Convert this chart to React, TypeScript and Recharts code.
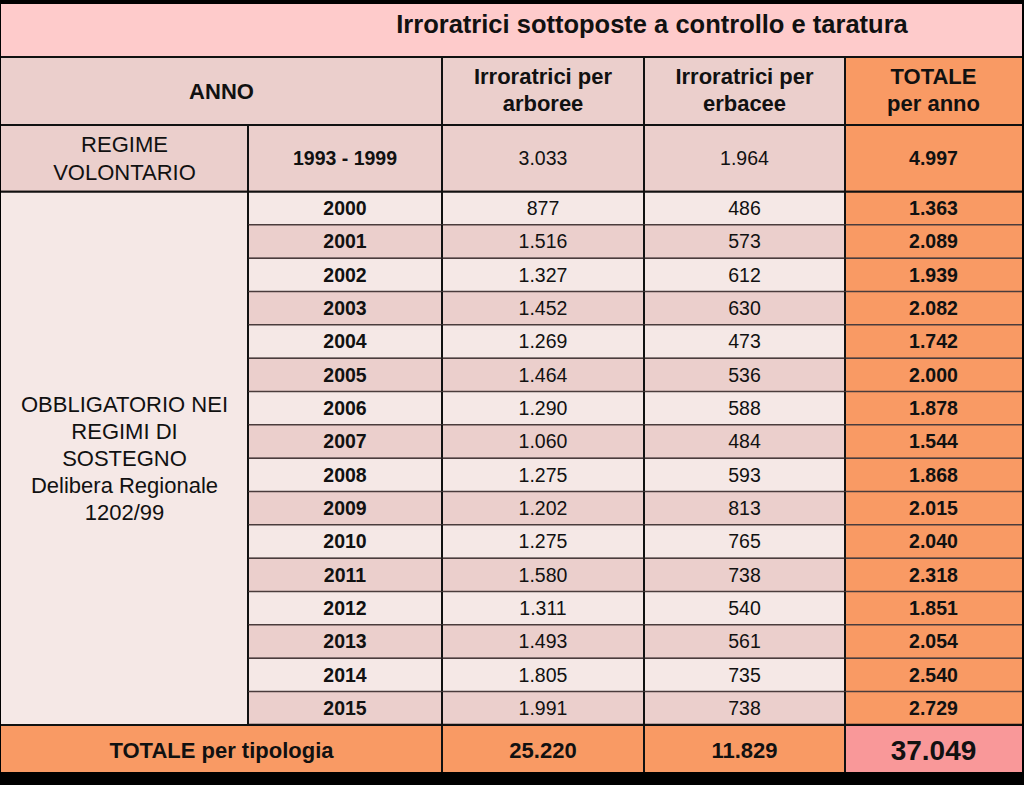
import React from 'react';
import { BarChart, Bar, XAxis, YAxis, ReferenceArea, Customized } from 'recharts';

// ---------- data ----------
const titolo = 'Irroratrici sottoposte a controllo e taratura';
const intestazioneAnno = 'ANNO';
const intestazioniColonne = [
  ['Irroratrici per', 'arboree'],
  ['Irroratrici per', 'erbacee'],
  ['TOTALE', 'per anno'],
];
const etichettaVolontario = ['REGIME', 'VOLONTARIO'];
const periodoVolontario = ['1993', '1999'];
const valoriVolontario = [3033, 1964, 4997];
const etichettaObbligatorio = ['OBBLIGATORIO NEI', 'REGIMI DI', 'SOSTEGNO', 'Delibera Regionale', '1202/99'];
const anni = ['2000', '2001', '2002', '2003', '2004', '2005', '2006', '2007', '2008', '2009', '2010', '2011', '2012', '2013', '2014', '2015'];
const arboree = [877, 1516, 1327, 1452, 1269, 1464, 1290, 1060, 1275, 1202, 1275, 1580, 1311, 1493, 1805, 1991];
const erbacee = [486, 573, 612, 630, 473, 536, 588, 484, 593, 813, 765, 738, 540, 561, 735, 738];
const totali = [1363, 2089, 1939, 2082, 1742, 2000, 1878, 1544, 1868, 2015, 2040, 2318, 1851, 2054, 2540, 2729];
const etichettaTotale = 'TOTALE per tipologia';
const totaliTipologia = [25220, 11829, 37049];

// ---------- style ----------
const FONT = '"Liberation Sans", Arial, Helvetica, sans-serif';
const X = { left: 1, c1: 248, c2: 442, c3: 644, c4: 845, right: 1022 };
const C = {
  title: '#FECBCB',
  head: '#EBCFCC',
  light: '#F5E8E6',
  orange: '#F99A64',
  grand: '#F99899',
  line: '#111111',
  thin: '#4a3c3c',
  text: '#111111',
};
const TITLE_TOP = 4;
const HEAD_TOP = 57;
const PLOT_TOP = 125;
const FOOT_BOTTOM = 772;
const CHART_W = 1024;
const CHART_H = 785;
const MARGIN = { top: PLOT_TOP, right: CHART_W - X.right, bottom: 60, left: X.left };

const fmt = (n: number) => String(n).replace(/\B(?=(\d{3})+(?!\d))/g, '.');

const colCenters = [(X.c2 + X.c3) / 2, (X.c3 + X.c4) / 2, (X.c4 + X.right) / 2];

function Txt({ x, cy, size, bold, children }: any) {
  return (
    <text
      x={x}
      y={cy + 0.358 * size}
      fontSize={size}
      fontWeight={bold ? 700 : 400}
      fontFamily={FONT}
      textAnchor="middle"
      fill={C.text}
    >
      {children}
    </text>
  );
}

function HLine({ x1, x2, y, thick }: any) {
  return <line x1={x1} x2={x2} y1={y} y2={y} stroke={thick ? C.line : C.thin} strokeWidth={thick ? 2 : 1.2} />;
}
function VLine({ x, y1, y2 }: any) {
  return <line x1={x} x2={x} y1={y1} y2={y2} stroke={C.line} strokeWidth={2} />;
}

// ---------- header & footer ----------
function HeaderFooter() {
  const hCy = (HEAD_TOP + PLOT_TOP) / 2;
  const footTop = CHART_H - MARGIN.bottom;
  const fCy = (footTop + FOOT_BOTTOM) / 2;
  return (
    <g>
      {/* title */}
      <rect x={X.left} y={TITLE_TOP} width={X.right - X.left} height={HEAD_TOP - TITLE_TOP} fill={C.title} />
      <Txt x={652} cy={23.5} size={25.5} bold>{titolo}</Txt>
      {/* header */}
      <rect x={X.left} y={HEAD_TOP} width={X.c4 - X.left} height={PLOT_TOP - HEAD_TOP} fill={C.head} />
      <rect x={X.c4} y={HEAD_TOP} width={X.right - X.c4} height={PLOT_TOP - HEAD_TOP} fill={C.orange} />
      <Txt x={(X.left + X.c2) / 2} cy={hCy} size={22} bold>{intestazioneAnno}</Txt>
      {intestazioniColonne.map((lines, i) =>
        lines.map((l, j) => (
          <Txt key={`${i}-${j}`} x={colCenters[i]} cy={hCy - 14.5 + j * 26.5} size={22} bold>{l}</Txt>
        ))
      )}
      <HLine x1={X.left} x2={X.right} y={HEAD_TOP} thick />
      <HLine x1={X.left} x2={X.right} y={PLOT_TOP} thick />
      <VLine x={X.c2} y1={HEAD_TOP} y2={PLOT_TOP} />
      <VLine x={X.c3} y1={HEAD_TOP} y2={PLOT_TOP} />
      <VLine x={X.c4} y1={HEAD_TOP} y2={PLOT_TOP} />
      {/* footer */}
      <rect x={X.left} y={footTop} width={X.c4 - X.left} height={FOOT_BOTTOM - footTop} fill={C.orange} />
      <rect x={X.c4} y={footTop} width={X.right - X.c4} height={FOOT_BOTTOM - footTop} fill={C.grand} />
      <Txt x={(X.left + X.c2) / 2} cy={fCy + 1.5} size={22} bold>{etichettaTotale}</Txt>
      <Txt x={colCenters[0]} cy={fCy + 1.5} size={22} bold>{fmt(totaliTipologia[0])}</Txt>
      <Txt x={colCenters[1]} cy={fCy + 1.5} size={22} bold>{fmt(totaliTipologia[1])}</Txt>
      <Txt x={colCenters[2]} cy={fCy + 1.5} size={28} bold>{fmt(totaliTipologia[2])}</Txt>
      <HLine x1={X.left} x2={X.right} y={footTop} thick />
      <VLine x={X.c2} y1={footTop} y2={FOOT_BOTTOM} />
      <VLine x={X.c3} y1={footTop} y2={FOOT_BOTTOM} />
      <VLine x={X.c4} y1={footTop} y2={FOOT_BOTTOM} />
    </g>
  );
}

// ---------- regime volontario row (spans the 1993 and 1999 bands) ----------
function RegimeShape(props: any) {
  const { y, height } = props;
  if (y == null || height == null) return <g />;
  const cy = y + height / 2;
  return (
    <g>
      <rect x={X.left} y={y} width={X.c4 - X.left} height={height} fill={C.head} />
      <rect x={X.c4} y={y} width={X.right - X.c4} height={height} fill={C.orange} />
      {etichettaVolontario.map((l, j) => (
        <Txt key={j} x={(X.left + X.c1) / 2} cy={cy - 14 + j * 28} size={22}>{l}</Txt>
      ))}
      <Txt x={(X.c1 + X.c2) / 2} cy={cy} size={19.5} bold>{`${periodoVolontario[0]} - ${periodoVolontario[1]}`}</Txt>
      <Txt x={colCenters[0]} cy={cy} size={19.5}>{fmt(valoriVolontario[0])}</Txt>
      <Txt x={colCenters[1]} cy={cy} size={19.5}>{fmt(valoriVolontario[1])}</Txt>
      <Txt x={colCenters[2]} cy={cy} size={19.5} bold>{fmt(valoriVolontario[2])}</Txt>
      <HLine x1={X.left} x2={X.right} y={y} thick />
      <HLine x1={X.left} x2={X.right} y={y + height} thick />
      <VLine x={X.c1} y1={y} y2={y + height} />
      <VLine x={X.c2} y1={y} y2={y + height} />
      <VLine x={X.c3} y1={y} y2={y + height} />
      <VLine x={X.c4} y1={y} y2={y + height} />
    </g>
  );
}

// ---------- merged left cell for the obligatory regime (2000..2015 bands) ----------
function ObbligatorioShape(props: any) {
  const { y, height } = props;
  if (y == null || height == null) return <g />;
  const cy = y + height / 2;
  const n = etichettaObbligatorio.length;
  return (
    <g>
      <rect x={X.left} y={y} width={X.c1 - X.left} height={height} fill={C.light} />
      {etichettaObbligatorio.map((l, j) => (
        <Txt key={j} x={(X.left + X.c1) / 2} cy={cy + (j - (n - 1) / 2) * 27} size={22}>{l}</Txt>
      ))}
      <HLine x1={X.left} x2={X.c1} y={y} thick />
      <HLine x1={X.left} x2={X.c1} y={y + height} thick />
      <VLine x={X.c1} y1={y} y2={y + height} />
    </g>
  );
}

// ---------- yearly rows ----------
function RowShape(props: any) {
  const { y, height, payload } = props;
  if (!payload || payload.totale == null || y == null) return <g />;
  const k = payload.k as number;
  const bg = k % 2 === 0 ? C.light : C.head;
  const cy = y + height / 2;
  return (
    <g>
      <rect x={X.c1} y={y} width={X.c4 - X.c1} height={height} fill={bg} />
      <rect x={X.c4} y={y} width={X.right - X.c4} height={height} fill={C.orange} />
      <Txt x={(X.c1 + X.c2) / 2} cy={cy} size={19.5} bold>{payload.anno}</Txt>
      <Txt x={colCenters[0]} cy={cy} size={19.5}>{fmt(payload.arboree)}</Txt>
      <Txt x={colCenters[1]} cy={cy} size={19.5}>{fmt(payload.erbacee)}</Txt>
      <Txt x={colCenters[2]} cy={cy} size={19.5} bold>{fmt(payload.totale)}</Txt>
      <HLine x1={X.c1} x2={X.right} y={y} thick={k === 0} />
      <HLine x1={X.c1} x2={X.right} y={y + height} thick={k === anni.length - 1} />
      <VLine x={X.c1} y1={y} y2={y + height} />
      <VLine x={X.c2} y1={y} y2={y + height} />
      <VLine x={X.c3} y1={y} y2={y + height} />
      <VLine x={X.c4} y1={y} y2={y + height} />
    </g>
  );
}

const data = [
  ...periodoVolontario.map((a) => ({ anno: a })),
  ...anni.map((a, k) => ({ anno: a, k, arboree: arboree[k], erbacee: erbacee[k], totale: totali[k] })),
];

export default function App() {
  return (
    <div style={{ position: 'absolute', left: 0, top: 0, width: CHART_W, height: CHART_H, background: '#000' }}>
      <BarChart
        width={CHART_W}
        height={CHART_H}
        data={data}
        layout="vertical"
        margin={MARGIN}
        barCategoryGap={0}
        barGap={0}
      >
        <XAxis type="number" hide domain={[0, 'dataMax']} />
        <YAxis type="category" dataKey="anno" hide />
        <Customized component={<HeaderFooter />} />
        <ReferenceArea y1={periodoVolontario[0]} y2={periodoVolontario[1]} shape={RegimeShape} ifOverflow="visible" />
        <ReferenceArea y1={anni[0]} y2={anni[anni.length - 1]} shape={ObbligatorioShape} ifOverflow="visible" />
        <Bar dataKey="totale" shape={RowShape} isAnimationActive={false} />
      </BarChart>
    </div>
  );
}
